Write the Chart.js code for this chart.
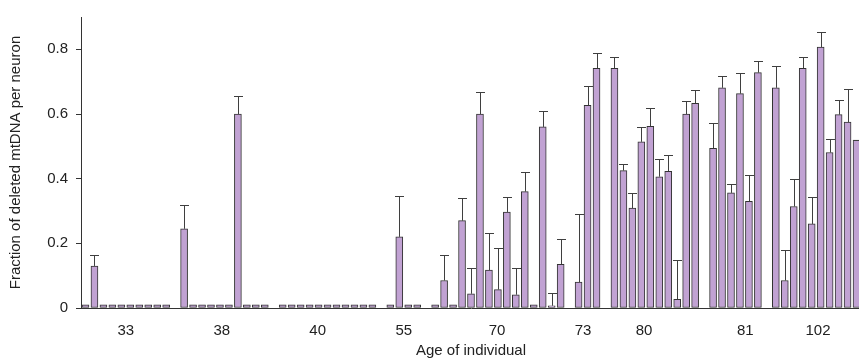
<!DOCTYPE html>
<html>
<head>
<meta charset="utf-8">
<script src="https://cdn.jsdelivr.net/npm/chart.js@4.4.1/dist/chart.umd.min.js"></script>
<style>
  html, body { margin: 0; padding: 0; background: #fff; overflow: hidden; }
  canvas { display: block; }
</style>
</head>
<body>
<canvas id="chart" width="861" height="360"></canvas>
<script>
// ages of the individuals, and where their labels sit (in bar-slot units)
const ageLabels = ["33", "38", "40", "55", "70", "73", "80", "81", "102"];
const ageTickAt = [4.5, 15.2, 25.9, 35.5, 45.9, 55.5, 62.3, 73.6, 81.7];

// fraction of deleted mtDNA, one list per individual (one bar per neuron)
const fractionByAge = [
  [0.01, 0.13, 0.01, 0.01, 0.01, 0.01, 0.01, 0.01, 0.01, 0.01],
  [0.245, 0.01, 0.01, 0.01, 0.01, 0.01, 0.60, 0.01, 0.01, 0.01],
  [0.01, 0.01, 0.01, 0.01, 0.01, 0.01, 0.01, 0.01, 0.01, 0.01, 0.01],
  [0.01, 0.22, 0.01, 0.01],
  [0.01, 0.085, 0.01, 0.27, 0.044, 0.60, 0.117, 0.057, 0.297, 0.041, 0.36, 0.01, 0.56, 0.007, 0.135],
  [0.08, 0.627, 0.741],
  [0.741, 0.425, 0.309, 0.514, 0.562, 0.406, 0.423, 0.027, 0.60, 0.633],
  [0.494, 0.681, 0.356, 0.663, 0.33, 0.728],
  [0.681, 0.085, 0.314, 0.741, 0.26, 0.807, 0.481, 0.598, 0.575, 0.519]
];

// upper end of the error bar (null = no error bar drawn)
const errorTopByAge = [
  [null, 0.165, null, null, null, null, null, null, null, null],
  [0.318, null, null, null, null, null, 0.655, null, null, null],
  [null, null, null, null, null, null, null, null, null, null, null],
  [null, 0.345, null, null],
  [null, 0.164, null, 0.34, 0.125, 0.668, 0.231, 0.186, 0.344, 0.125, 0.422, null, 0.61, 0.046, 0.214],
  [0.29, 0.686, 0.788],
  [0.777, 0.445, 0.355, 0.559, 0.618, 0.46, 0.473, 0.15, 0.64, 0.674],
  [0.572, 0.716, 0.383, 0.726, 0.41, 0.764],
  [0.75, 0.178, 0.398, 0.775, 0.344, 0.853, 0.522, 0.643, 0.678, 0.52]
];

// flatten, one empty slot between individuals
const values = [];
const errorTop = [];
fractionByAge.forEach((group, g) => {
  if (g > 0) { values.push(null); errorTop.push(null); }
  group.forEach((v, i) => { values.push(v); errorTop.push(errorTopByAge[g][i]); });
});

const errorBars = {
  id: "errorBars",
  afterDatasetsDraw(chart) {
    const ctx = chart.ctx;
    const yScale = chart.scales.y;
    const bars = chart.getDatasetMeta(0).data;
    ctx.save();
    ctx.strokeStyle = "#3f3f3f";
    ctx.lineWidth = 1;
    bars.forEach((bar, i) => {
      if (values[i] == null || errorTop[i] == null) return;
      const x = Math.round(bar.x) + 0.5;
      const top = Math.round(yScale.getPixelForValue(errorTop[i])) + 0.5;
      ctx.beginPath();
      ctx.moveTo(x, bar.y);
      ctx.lineTo(x, top);
      ctx.moveTo(x - 4.5, top);
      ctx.lineTo(x + 4.5, top);
      ctx.stroke();
    });
    ctx.restore();
  }
};

const font = { family: "'Liberation Sans', Arial, sans-serif", size: 15 };

new Chart(document.getElementById("chart").getContext("2d"), {
  type: "bar",
  data: {
    datasets: [{
      data: values.map((v, i) => ({ x: i, y: v })),
      backgroundColor: "#c1a2d3",
      borderColor: "#333",
      borderWidth: 1,
      borderSkipped: false,
      barThickness: 7
    }]
  },
  options: {
    responsive: false,
    animation: false,
    layout: { padding: { top: 11, right: 0, left: 0, bottom: 0 } },
    plugins: { legend: { display: false }, tooltip: { enabled: false } },
    scales: {
      x: {
        type: "linear",
        min: -0.5,
        max: values.length - 0.5,
        offset: false,
        grid: { display: false, offset: false },
        border: { display: true, color: "#333", width: 1 },
        afterBuildTicks: (axis) => { axis.ticks = ageTickAt.map((v) => ({ value: v })); },
        afterFit: (axis) => { axis.height = 52; },
        ticks: {
          autoSkip: false,
          maxRotation: 0,
          padding: 6,
          color: "#222",
          font: font,
          callback: (v, i) => ageLabels[i]
        },
        title: { display: true, text: "Age of individual", color: "#222", font: font, padding: 0 }
      },
      y: {
        min: 0,
        max: 0.9,
        grid: { display: true, drawOnChartArea: false, drawTicks: true, tickLength: 5, color: "#333" },
        border: { display: true, color: "#333", width: 1 },
        afterFit: (axis) => { axis.width = 81; },
        ticks: {
          stepSize: 0.2,
          includeBounds: false,
          padding: 8,
          color: "#222",
          font: font,
          callback: (v) => (v === 0 ? "0" : v.toFixed(1))
        },
        title: {
          display: true,
          text: "Fraction of deleted mtDNA per neuron",
          color: "#222",
          font: font,
          padding: { top: 7, bottom: 0 }
        }
      }
    }
  },
  plugins: [errorBars]
});
</script>
</body>
</html>
